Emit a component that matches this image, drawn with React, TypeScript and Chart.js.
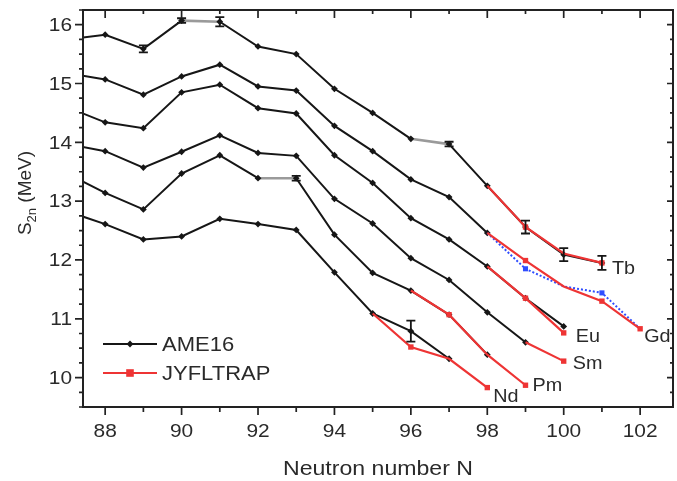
import { useEffect, useRef } from "react";
import { Chart, registerables } from "chart.js";

Chart.register(...registerables);

// Axis ranges
const N_MIN = 87.42;
const N_MAX = 102.86;
const S_MIN = 9.5;
const S_MAX = 16.25;

const xTickLabels = ["88", "90", "92", "94", "96", "98", "100", "102"];
const yTickLabels = ["10", "11", "12", "13", "14", "15", "16"];

// AME16 two-neutron separation energies (MeV)
const ameTbN = [87, 88, 89, 90, 91, 92, 93, 94, 95, 96, 97, 98, 99, 100, 101];
const ameTbS = [15.75, 15.83, 15.59, 16.07, 16.05, 15.63, 15.5, 14.91, 14.5, 14.06, 13.97, 13.26, 12.56, 12.09, 11.95];
const ameTbErr = [0, 0, 0.06, 0.04, 0.08, 0, 0, 0, 0, 0, 0.04, 0, 0.11, 0.11, 0.12];

const ameGdN = [87, 88, 89, 90, 91, 92, 93, 94, 95, 96, 97, 98];
const ameGdS = [15.18, 15.07, 14.81, 15.12, 15.32, 14.95, 14.88, 14.28, 13.85, 13.37, 13.07, 12.46];

const ameEuN = [87, 88, 89, 90, 91, 92, 93, 94, 95, 96, 97, 98, 99, 100];
const ameEuS = [14.6, 14.34, 14.24, 14.85, 14.98, 14.58, 14.49, 13.78, 13.31, 12.71, 12.35, 11.89, 11.35, 10.87];

const ameSmN = [87, 88, 89, 90, 91, 92, 93, 94, 95, 96, 97, 98, 99];
const ameSmS = [13.97, 13.85, 13.57, 13.84, 14.12, 13.82, 13.77, 13.04, 12.62, 12.03, 11.66, 11.11, 10.6];

const amePmN = [87, 88, 89, 90, 91, 92, 93, 94, 95, 96, 97, 98];
const amePmS = [13.47, 13.14, 12.86, 13.47, 13.78, 13.39, 13.39, 12.43, 11.78, 11.48, 11.07, 10.39];
const amePmErr = [0, 0, 0, 0, 0, 0, 0.04, 0, 0, 0, 0, 0];

const ameNdN = [87, 88, 89, 90, 91, 92, 93, 94, 95, 96, 97];
const ameNdS = [12.83, 12.61, 12.35, 12.4, 12.7, 12.61, 12.51, 11.79, 11.09, 10.79, 10.32];
const ameNdErr = [0, 0, 0, 0, 0, 0, 0, 0, 0, 0.18, 0];

// JYFLTRAP results
const jyTbN = [98, 99, 100, 101];
const jyTbS = [13.26, 12.56, 12.11, 11.95];
const jyGdN = [98, 99, 100, 101, 102];
const jyGdS = [12.46, 11.99, 11.55, 11.3, 10.83];
const jyEuN = [98, 99, 100];
const jyEuS = [11.89, 11.35, 10.76];
const jySmN = [99, 100];
const jySmS = [10.6, 10.28];
const jyPmN = [96, 97, 98, 99];
const jyPmS = [11.48, 11.07, 10.39, 9.87];
const jyNdN = [95, 96, 97, 98];
const jyNdS = [11.09, 10.52, 10.32, 9.83];

// Neutron numbers measured directly for each chain (marked with squares)
const jyTbMeasured = [99, 101];
const jyGdMeasured = [99, 101, 102];
const jyEuMeasured = [99, 100];
const jySmMeasured = [100];
const jyPmMeasured = [97, 99];
const jyNdMeasured = [96, 98];

// Alternative Gd chain (dotted blue)
const gdAltN = [98, 99, 100, 101, 102];
const gdAltS = [12.46, 11.85, 11.55, 11.44, 10.83];
const gdAltMarked = [99, 101];

// Segments that start at these N are drawn in grey
const tbGreyLinks = [90, 96];
const pmGreyLinks = [92];

const chainLabels = ["Tb", "Gd", "Eu", "Sm", "Pm", "Nd"];

const BLACK = "#161616";
const RED = "#ee3434";
const BLUE = "#2f4dff";
const TEXT = "#2a2a2a";
const FONT = "'Liberation Sans', Arial, Helvetica, sans-serif";
const STRETCH = 1.1;

const pts = (ns: number[], ss: number[]) => ns.map((n, i) => ({ x: n, y: ss[i] }));

const ameDataset = (ns: number[], ss: number[], grey: number[] = []) => ({
  label: "AME16",
  data: pts(ns, ss),
  borderColor: BLACK,
  backgroundColor: BLACK,
  borderWidth: 2,
  pointStyle: "rectRot",
  pointRadius: 3.4,
  pointBorderWidth: 0,
  segment: {
    borderColor: (ctx: any) => (grey.includes(ctx.p0.parsed.x) ? "#9a9a9a" : undefined),
    borderWidth: (ctx: any) => (grey.includes(ctx.p0.parsed.x) ? 2.6 : undefined),
  },
  order: 3,
});

const jyDataset = (ns: number[], ss: number[], marked: number[]) => ({
  label: "JYFLTRAP",
  data: pts(ns, ss),
  borderColor: RED,
  backgroundColor: RED,
  borderWidth: 2.2,
  pointStyle: "rect",
  pointRadius: ns.map((n) => (marked.includes(n) ? 3.8 : 0)),
  pointBorderWidth: 0,
  order: 2,
});

const errorSets = [
  { n: ameTbN, s: ameTbS, e: ameTbErr },
  { n: amePmN, s: amePmS, e: amePmErr },
  { n: ameNdN, s: ameNdS, e: ameNdErr },
];

const labelEnds = [
  { text: chainLabels[0], n: jyTbN, s: jyTbS, dx: 10, dy: 6 },
  { text: chainLabels[1], n: jyGdN, s: jyGdS, dx: 4, dy: 8 },
  { text: chainLabels[2], n: jyEuN, s: jyEuS, dx: 12, dy: 4 },
  { text: chainLabels[3], n: jySmN, s: jySmS, dx: 9, dy: 3 },
  { text: chainLabels[4], n: jyPmN, s: jyPmS, dx: 7, dy: 1 },
  { text: chainLabels[5], n: jyNdN, s: jyNdS, dx: 6, dy: 9 },
];

// Draws text slightly widened horizontally
function wideText(ctx: CanvasRenderingContext2D, text: string, x: number, y: number, align: CanvasTextAlign) {
  ctx.save();
  ctx.translate(x, y);
  ctx.scale(STRETCH, 1);
  ctx.textAlign = align;
  ctx.fillText(text, 0, 0);
  ctx.restore();
}

const errorBarPlugin = {
  id: "errorBars",
  afterDatasetsDraw(chart: any) {
    const { ctx, scales } = chart;
    ctx.save();
    ctx.strokeStyle = BLACK;
    ctx.lineWidth = 1.8;
    errorSets.forEach(({ n, s, e }) => {
      n.forEach((nv, i) => {
        if (!e[i]) return;
        const x = scales.x.getPixelForValue(nv);
        const y1 = scales.y.getPixelForValue(s[i] + e[i]);
        const y2 = scales.y.getPixelForValue(s[i] - e[i]);
        ctx.beginPath();
        ctx.moveTo(x, y1);
        ctx.lineTo(x, y2);
        ctx.moveTo(x - 4.5, y1);
        ctx.lineTo(x + 4.5, y1);
        ctx.moveTo(x - 4.5, y2);
        ctx.lineTo(x + 4.5, y2);
        ctx.stroke();
      });
    });
    ctx.restore();
  },
};

const framePlugin = {
  id: "frame",
  afterDraw(chart: any) {
    const { ctx, chartArea: a, scales } = chart;
    const xs = scales.x;
    const ys = scales.y;
    ctx.save();

    // chain labels
    ctx.fillStyle = TEXT;
    ctx.font = `18px ${FONT}`;
    ctx.textBaseline = "middle";
    labelEnds.forEach(({ text, n, s, dx, dy }) => {
      const i = n.length - 1;
      wideText(ctx, text, xs.getPixelForValue(n[i]) + dx, ys.getPixelForValue(s[i]) + dy, "left");
    });

    // frame
    ctx.strokeStyle = "#222";
    ctx.lineWidth = 2;
    ctx.strokeRect(a.left, a.top, a.right - a.left, a.bottom - a.top);

    // x ticks
    ctx.lineWidth = 1.7;
    ctx.beginPath();
    for (let n = Math.ceil(N_MIN); n <= N_MAX; n++) {
      const x = xs.getPixelForValue(n);
      const major = n % 2 === 0;
      ctx.moveTo(x, a.bottom);
      ctx.lineTo(x, a.bottom + (major ? 8 : 5));
      ctx.moveTo(x, a.top);
      ctx.lineTo(x, a.top + (major ? 8 : 4));
    }
    // y ticks
    for (let v = Math.ceil(S_MIN * 4) / 4; v <= S_MAX + 1e-6; v += 0.25) {
      const y = ys.getPixelForValue(v);
      const major = Math.abs(v - Math.round(v)) < 1e-6;
      ctx.moveTo(a.left, y);
      ctx.lineTo(a.left - (major ? 8 : 4), y);
      ctx.moveTo(a.right, y);
      ctx.lineTo(a.right - (major ? 6 : 3), y);
    }
    ctx.stroke();

    // tick labels
    ctx.fillStyle = TEXT;
    ctx.font = `19px ${FONT}`;
    ctx.textBaseline = "middle";
    xTickLabels.forEach((t) => {
      wideText(ctx, t, xs.getPixelForValue(Number(t)), a.bottom + 25, "center");
    });
    yTickLabels.forEach((t) => {
      wideText(ctx, t, a.left - 11, ys.getPixelForValue(Number(t)) + 1, "right");
    });

    // axis titles
    ctx.font = `21px ${FONT}`;
    wideText(ctx, "Neutron number N", 378, 469, "center");

    ctx.save();
    ctx.translate(26, 193);
    ctx.rotate(-Math.PI / 2);
    ctx.textAlign = "left";
    const big = `19px ${FONT}`;
    const small = `13px ${FONT}`;
    ctx.font = big;
    const wS = ctx.measureText("S").width;
    ctx.font = small;
    const wSub = ctx.measureText("2n").width;
    ctx.font = big;
    const wRest = ctx.measureText(" (MeV)").width;
    let x0 = -(wS + wSub + wRest) / 2;
    ctx.fillText("S", x0, 0);
    x0 += wS;
    ctx.font = small;
    ctx.fillText("2n", x0, 6);
    x0 += wSub;
    ctx.font = big;
    ctx.fillText(" (MeV)", x0, 0);
    ctx.restore();

    // legend
    const lx0 = 103;
    const lx1 = 157;
    const rows = [
      { y: 344, color: BLACK, text: "AME16", marker: "diamond" },
      { y: 373, color: RED, text: "JYFLTRAP", marker: "square" },
    ];
    rows.forEach((r) => {
      ctx.strokeStyle = r.color;
      ctx.fillStyle = r.color;
      ctx.lineWidth = 2;
      ctx.beginPath();
      ctx.moveTo(lx0, r.y);
      ctx.lineTo(lx1, r.y);
      ctx.stroke();
      const cx = (lx0 + lx1) / 2;
      ctx.beginPath();
      if (r.marker === "square") {
        ctx.rect(cx - 3.8, r.y - 3.8, 7.6, 7.6);
      } else {
        ctx.moveTo(cx, r.y - 3.4);
        ctx.lineTo(cx + 3.4, r.y);
        ctx.lineTo(cx, r.y + 3.4);
        ctx.lineTo(cx - 3.4, r.y);
        ctx.closePath();
      }
      ctx.fill();
      ctx.fillStyle = TEXT;
      ctx.font = `20px ${FONT}`;
      ctx.textBaseline = "middle";
      wideText(ctx, r.text, 162, r.y + 1, "left");
    });

    ctx.restore();
  },
};

export default function App() {
  const canvasRef = useRef<HTMLCanvasElement>(null);

  useEffect(() => {
    const canvas = canvasRef.current;
    if (!canvas) return;
    const chart = new Chart(canvas, {
      type: "line",
      data: {
        datasets: [
          ameDataset(ameTbN, ameTbS, tbGreyLinks),
          ameDataset(ameGdN, ameGdS),
          ameDataset(ameEuN, ameEuS),
          ameDataset(ameSmN, ameSmS),
          ameDataset(amePmN, amePmS, pmGreyLinks),
          ameDataset(ameNdN, ameNdS),
          {
            label: "Gd (alt)",
            data: pts(gdAltN, gdAltS),
            borderColor: BLUE,
            backgroundColor: BLUE,
            borderWidth: 2,
            borderDash: [2, 2],
            pointStyle: "rect",
            pointRadius: gdAltN.map((n) => (gdAltMarked.includes(n) ? 3.6 : 0)),
            pointBorderWidth: 0,
            order: 2.5,
          },
          jyDataset(jyTbN, jyTbS, jyTbMeasured),
          jyDataset(jyGdN, jyGdS, jyGdMeasured),
          jyDataset(jyEuN, jyEuS, jyEuMeasured),
          jyDataset(jySmN, jySmS, jySmMeasured),
          jyDataset(jyPmN, jyPmS, jyPmMeasured),
          jyDataset(jyNdN, jyNdS, jyNdMeasured),
        ] as any,
      },
      options: {
        animation: false,
        responsive: false,
        devicePixelRatio: 1,
        layout: { padding: { left: 83, top: 10, right: 2, bottom: 74 } },
        scales: {
          x: { type: "linear", min: N_MIN, max: N_MAX, display: false },
          y: { type: "linear", min: S_MIN, max: S_MAX, display: false },
        },
        plugins: {
          legend: { display: false },
          tooltip: { enabled: false },
        },
        elements: { line: { tension: 0 } },
      },
      plugins: [errorBarPlugin, framePlugin],
    });
    return () => chart.destroy();
  }, []);

  return (
    <div style={{ position: "absolute", left: 0, top: 0, width: 677, height: 481, background: "#fff" }}>
      <canvas ref={canvasRef} width={677} height={481} style={{ display: "block" }} />
    </div>
  );
}
